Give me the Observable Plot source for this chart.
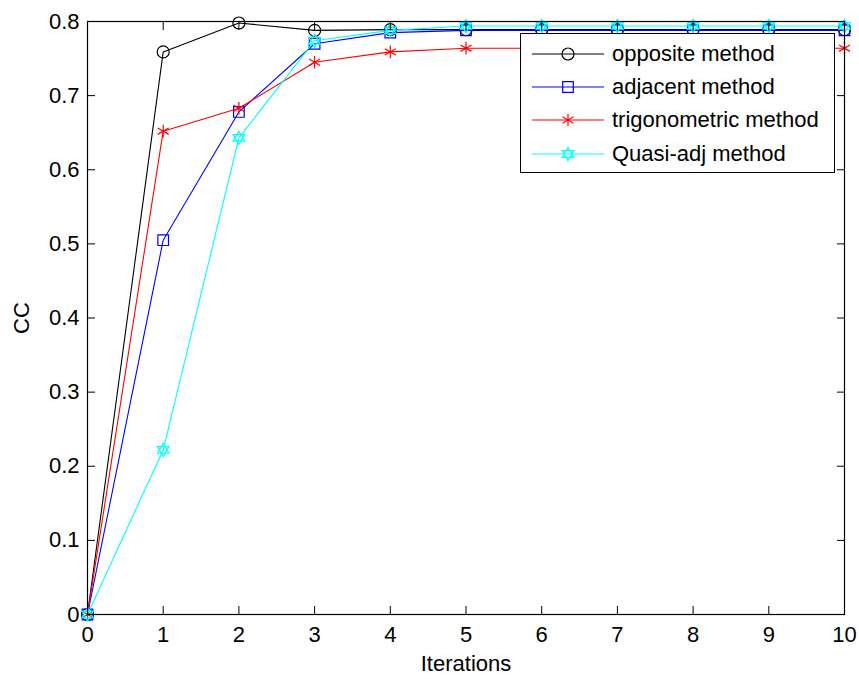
<!DOCTYPE html>
<html>
<head>
<meta charset="utf-8">
<script src="https://cdn.jsdelivr.net/npm/d3@7"></script>
<script src="https://cdn.jsdelivr.net/npm/@observablehq/plot@0.6"></script>
<style>
  html, body { margin: 0; padding: 0; background: #fff; }
  #wrap { position: relative; width: 859px; height: 679px; font-family: "Liberation Sans", Arial, sans-serif; }
  #legend { position: absolute; background: #fff; border: 1px solid #000; box-sizing: border-box; }
  #legend .row { display: flex; align-items: center; height: 33.3px; }
  #legend .lbl { font-size: 22px; color: #000; margin-left: 0px; white-space: nowrap; }
</style>
</head>
<body>
<div id="wrap"></div>
<script>
const iterations = [0, 1, 2, 3, 4, 5, 6, 7, 8, 9, 10];
const opposite      = [0, 0.759, 0.798, 0.788, 0.789, 0.789, 0.789, 0.789, 0.789, 0.789, 0.789];
const adjacent      = [0, 0.505, 0.678, 0.770, 0.785, 0.788, 0.788, 0.788, 0.788, 0.788, 0.788];
const trigonometric = [0, 0.652, 0.683, 0.745, 0.759, 0.764, 0.764, 0.764, 0.764, 0.764, 0.764];
const quasiAdj      = [0, 0.222, 0.643, 0.774, 0.788, 0.794, 0.794, 0.794, 0.794, 0.794, 0.794];
const seriesNames = ["opposite method", "adjacent method", "trigonometric method", "Quasi-adj method"];
const seriesColors = ["#000000", "#0000ff", "#ff0000", "#00ffff"];
const xTicks = [0, 1, 2, 3, 4, 5, 6, 7, 8, 9, 10];
const yTicks = [0, 0.1, 0.2, 0.3, 0.4, 0.5, 0.6, 0.7, 0.8];

// custom hexagram symbol (MATLAB 'h')
const hexagram = {
  draw(context, size) {
    const r = Math.sqrt(size / Math.PI) * 1.1;
    for (let t = 0; t < 2; t++) {
      const off = t === 0 ? -Math.PI / 2 : Math.PI / 2;
      for (let i = 0; i < 3; i++) {
        const a = off + i * 2 * Math.PI / 3;
        const x = r * Math.cos(a), y = r * Math.sin(a);
        if (i === 0) context.moveTo(x, y); else context.lineTo(x, y);
      }
      context.closePath();
    }
  }
};
const symbols = ["circle", "square", "asterisk", hexagram];

const seriesValues = [opposite, adjacent, trigonometric, quasiAdj];
const rows = seriesValues.map((vals, s) => iterations.map((x, i) => ({x, y: vals[i], s})));

const marks = [];
rows.forEach((data, s) => {
  marks.push(Plot.line(data, {x: "x", y: "y", stroke: seriesColors[s], strokeWidth: 1.1}));
  marks.push(Plot.dot(data, {x: "x", y: "y", stroke: seriesColors[s], symbol: () => symbols[s], r: 6, fill: "none", strokeWidth: 1.2}));
});

const fmtY = d => d === 0 ? "0" : d3.format(".1f")(d);
const plot = Plot.plot({
  width: 859,
  height: 679,
  marginLeft: 87,
  marginRight: 15,
  marginTop: 21,
  marginBottom: 65,
  style: {fontFamily: "Liberation Sans, Arial, sans-serif", fontSize: "22px", color: "#000", background: "#fff"},
  x: {domain: [0, 10]},
  y: {domain: [0, 0.8]},
  symbol: {type: "identity"},
  marks: [
    ...marks,
    Plot.frame({stroke: "#000", strokeWidth: 1.2}),
    Plot.axisX(xTicks, {anchor: "bottom", tickSize: -8, tickPadding: 20, tickFormat: d => String(d), fontSize: 22, label: "Iterations", labelAnchor: "center", labelOffset: 56, labelArrow: "none"}),
    Plot.axisX(xTicks, {anchor: "top", tickSize: -8, tickFormat: () => "", label: null}),
    Plot.axisY(yTicks, {anchor: "left", tickSize: -8, tickPadding: 16, tickFormat: fmtY, fontSize: 22, label: "CC", labelAnchor: "center", labelOffset: 74, labelArrow: "none"}),
    Plot.axisY(yTicks, {anchor: "right", tickSize: -8, tickFormat: () => "", label: null})
  ]
});
const wrap = document.getElementById("wrap");
wrap.appendChild(plot);

// legend
const legend = document.createElement("div");
legend.id = "legend";
legend.style.left = "520px";
legend.style.top = "33px";
legend.style.width = "315px";
legend.style.height = "140px";
legend.style.paddingTop = "3px";
seriesNames.forEach((name, s) => {
  const row = document.createElement("div");
  row.className = "row";
  const svg = d3.create("svg").attr("width", 80).attr("height", 20).style("margin-left", "11px");
  svg.append("line").attr("x1", 0).attr("x2", 72).attr("y1", 10).attr("y2", 10).attr("stroke", seriesColors[s]).attr("stroke-width", 1.1);
  const symType = typeof symbols[s] === "string" ? {circle: d3.symbolCircle, square: d3.symbolSquare, asterisk: d3.symbolAsterisk}[symbols[s]] : symbols[s];
  svg.append("path").attr("transform", "translate(36,10)").attr("d", d3.symbol(symType, Math.PI * 36)()).attr("fill", "none").attr("stroke", seriesColors[s]).attr("stroke-width", 1.2);
  row.appendChild(svg.node());
  const lbl = document.createElement("span");
  lbl.className = "lbl";
  lbl.textContent = name;
  row.appendChild(lbl);
  legend.appendChild(row);
});
wrap.appendChild(legend);
</script>
</body>
</html>
